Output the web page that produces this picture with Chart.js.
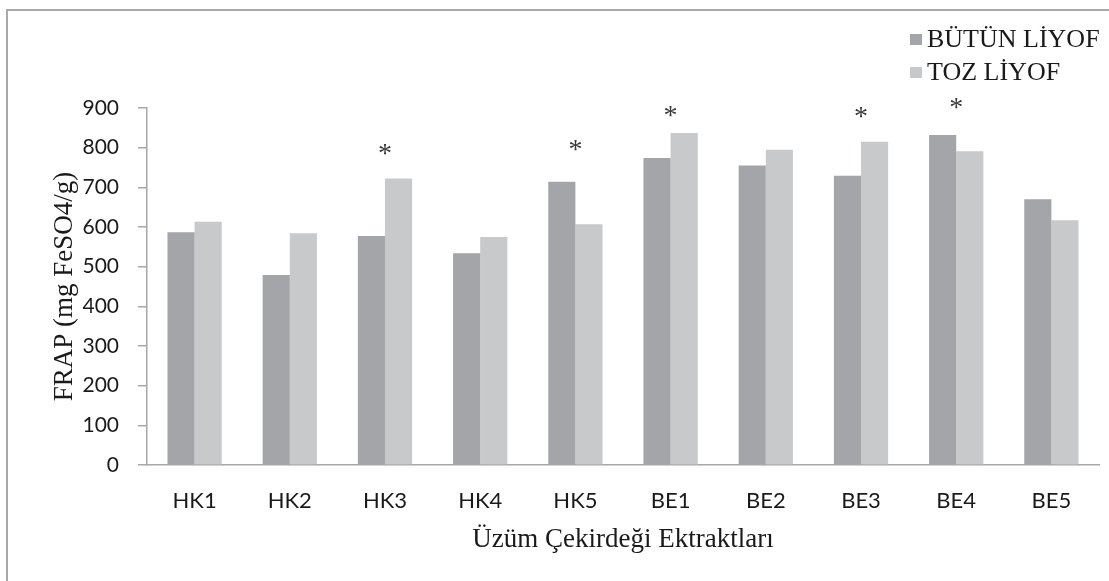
<!DOCTYPE html>
<html>
<head>
<meta charset="utf-8">
<script src="https://cdn.jsdelivr.net/npm/chart.js@4.4.0/dist/chart.umd.min.js"></script>
<style>
  html, body { margin: 0; padding: 0; background: #ffffff; }
  #wrap { position: relative; width: 1109px; height: 581px; overflow: hidden; }
  #frame { position: absolute; left: 6px; top: 9px; width: 1200px; height: 700px;
           border-left: 2px solid #a9a9a9; border-top: 2px solid #a9a9a9; }
  canvas { position: absolute; left: 0; top: 0; }
</style>
</head>
<body>
<div id="wrap">
  <div id="frame"></div>
  <canvas id="c" width="1109" height="581"></canvas>
</div>
<script>
// FRAP values per extract (mg FeSO4/g)
const categories = ['HK1', 'HK2', 'HK3', 'HK4', 'HK5', 'BE1', 'BE2', 'BE3', 'BE4', 'BE5'];
const butunLiyof = [587, 479, 577, 534, 714, 774, 755, 729, 832, 670];
const tozLiyof   = [613, 584, 722, 575, 607, 837, 795, 815, 791, 617];
// height (in axis units) at which the significance mark sits; null = no mark
const significance = [null, null, 797, null, 807, 894, null, 890, 913, null];
const yTicks = [0, 100, 200, 300, 400, 500, 600, 700, 800, 900];

const seriesNames = ['BÜTÜN LİYOF', 'TOZ LİYOF'];
const seriesColors = ['#a4a5a9', '#c8c9cb'];
const axisGray = '#a8a8a8';
const textColor = '#1a1a1a';
const serif = "'Liberation Serif', 'Times New Roman', serif";
const sans = "Lato, 'Open Sans', sans-serif";

// asterisks above the groups that differ significantly
const starPlugin = {
  id: 'stars',
  afterDatasetsDraw(chart) {
    const { ctx, scales: { x, y } } = chart;
    const size = 28;
    ctx.save();
    ctx.fillStyle = '#383838';
    ctx.font = size + 'px ' + serif;
    ctx.textAlign = 'center';
    ctx.textBaseline = 'alphabetic';
    significance.forEach((v, i) => {
      if (v === null) return;
      ctx.fillText('*', x.getPixelForValue(i), y.getPixelForValue(v) + size * 0.47);
    });
    ctx.restore();
  }
};

// legend in the upper right corner: square swatch followed by the series name
const legendPlugin = {
  id: 'cornerLegend',
  afterDraw(chart) {
    const { ctx } = chart;
    ctx.save();
    ctx.font = '26px ' + serif;
    ctx.textAlign = 'left';
    ctx.textBaseline = 'alphabetic';
    chart.data.datasets.forEach((ds, i) => {
      const base = 47 + i * 33;
      ctx.fillStyle = ds.backgroundColor;
      ctx.fillRect(910, base - 13, 12, 11);
      ctx.fillStyle = textColor;
      ctx.fillText(ds.label, 927, base);
    });
    ctx.restore();
  }
};

new Chart(document.getElementById('c'), {
  type: 'bar',
  data: {
    labels: categories,
    datasets: [
      { label: seriesNames[0], data: butunLiyof, backgroundColor: seriesColors[0] },
      { label: seriesNames[1], data: tozLiyof, backgroundColor: seriesColors[1] }
    ]
  },
  options: {
    responsive: false,
    animation: false,
    devicePixelRatio: 1,
    layout: { padding: { top: 108, right: 10, bottom: 0, left: 0 } },
    datasets: { bar: { categoryPercentage: 0.57, barPercentage: 1.0, borderWidth: 0 } },
    plugins: {
      legend: { display: false },
      tooltip: { enabled: false }
    },
    scales: {
      x: {
        afterFit(scale) { scale.height = 116; },
        grid: { drawOnChartArea: false, drawTicks: false },
        border: { color: axisGray, width: 1.5 },
        ticks: { color: textColor, font: { family: sans, size: 22 }, padding: 23 },
        title: {
          display: true,
          text: 'Üzüm Çekirdeği Ektraktları',
          color: textColor,
          font: { family: serif, size: 27 },
          padding: { top: 0, bottom: 25 }
        }
      },
      y: {
        min: 0,
        max: 900,
        afterFit(scale) { scale.width = 147; },
        afterBuildTicks(scale) { scale.ticks = yTicks.map(v => ({ value: v })); },
        grid: { drawOnChartArea: false, drawTicks: true, tickLength: 9, color: axisGray, lineWidth: 1.5 },
        border: { color: axisGray, width: 1.5 },
        ticks: { color: textColor, font: { family: sans, size: 21 }, padding: 19 },
        title: {
          display: true,
          text: 'FRAP (mg FeSO4/g)',
          color: textColor,
          font: { family: serif, size: 27 },
          padding: { top: 49, bottom: 0 }
        }
      }
    }
  },
  plugins: [starPlugin, legendPlugin]
});
</script>
</body>
</html>
